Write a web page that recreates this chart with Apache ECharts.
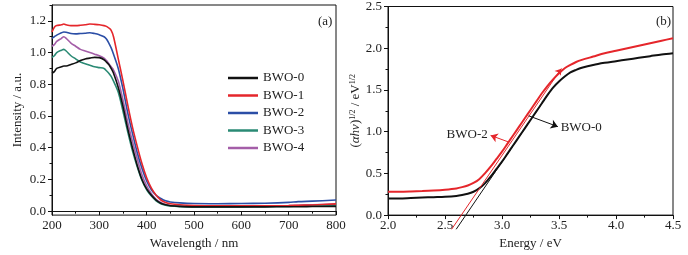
<!DOCTYPE html>
<html>
<head>
<meta charset="utf-8">
<script src="https://cdn.jsdelivr.net/npm/echarts@6/dist/echarts.min.js"></script>
<style>
  html, body { margin: 0; padding: 0; background: #fff; }
  #chart { width: 688px; height: 255px; }
</style>
</head>
<body>
<div id="chart"></div>
<script>
// ---- panel (a): intensity vs wavelength
var wavelength = [200, 205, 210, 220, 225, 230, 240, 250, 260, 270, 280, 290, 300, 310, 315, 320, 325, 330, 340, 350,
  360, 370, 380, 390, 400, 410, 420, 430, 440, 450, 470, 500, 550, 600, 650, 700, 720, 750, 800];
var bwo0 = [0.87, 0.88, 0.90, 0.91, 0.915, 0.915, 0.925, 0.935, 0.95, 0.96, 0.965, 0.97, 0.968, 0.955, 0.94, 0.925, 0.90, 0.87, 0.78, 0.66,
  0.52, 0.40, 0.29, 0.20, 0.14, 0.10, 0.07, 0.05, 0.04, 0.034, 0.03, 0.027, 0.027, 0.027, 0.027, 0.028, 0.028, 0.029, 0.030];
var bwo1 = [1.13, 1.16, 1.17, 1.175, 1.18, 1.175, 1.17, 1.17, 1.172, 1.175, 1.18, 1.178, 1.175, 1.17, 1.165, 1.155, 1.14, 1.10, 0.96, 0.82,
  0.67, 0.53, 0.41, 0.30, 0.21, 0.145, 0.10, 0.07, 0.055, 0.047, 0.04, 0.035, 0.033, 0.033, 0.034, 0.035, 0.037, 0.039, 0.046];
var bwo2 = [1.09, 1.10, 1.11, 1.125, 1.13, 1.128, 1.12, 1.118, 1.12, 1.122, 1.125, 1.12, 1.112, 1.10, 1.085, 1.06, 1.03, 0.99, 0.90, 0.77,
  0.62, 0.49, 0.37, 0.27, 0.19, 0.135, 0.10, 0.08, 0.065, 0.058, 0.052, 0.048, 0.047, 0.048, 0.05, 0.055, 0.06, 0.063, 0.07];
var bwo3 = [0.97, 0.98, 1.00, 1.015, 1.02, 1.01, 0.98, 0.96, 0.94, 0.93, 0.92, 0.91, 0.905, 0.90, 0.885, 0.87, 0.85, 0.82, 0.75, 0.63,
  0.50, 0.38, 0.28, 0.195, 0.135, 0.095, 0.065, 0.047, 0.037, 0.032, 0.028, 0.026, 0.026, 0.027, 0.028, 0.030, 0.032, 0.034, 0.038];
var bwo4 = [1.04, 1.05, 1.07, 1.09, 1.10, 1.09, 1.06, 1.04, 1.02, 1.01, 1.00, 0.99, 0.98, 0.965, 0.95, 0.93, 0.91, 0.89, 0.82, 0.70,
  0.56, 0.44, 0.33, 0.23, 0.16, 0.11, 0.075, 0.055, 0.042, 0.036, 0.031, 0.029, 0.029, 0.03, 0.032, 0.035, 0.037, 0.04, 0.045];
var namesA = ["BWO-0", "BWO-1", "BWO-2", "BWO-3", "BWO-4"];
var colorsA = ["#111111", "#e5262b", "#2b4ea6", "#2a8a74", "#a45ea8"];
var yTicksA = [0, 0.2, 0.4, 0.6, 0.8, 1.0, 1.2];
var yMinorA = [0.1, 0.3, 0.5, 0.7, 0.9, 1.1, 1.3];

// ---- panel (b): (ahv)^1/2 vs energy
var energy = [2.0, 2.1, 2.2, 2.3, 2.4, 2.5, 2.6, 2.65, 2.7, 2.75, 2.8, 2.85, 2.9, 2.95, 3.0, 3.05, 3.1, 3.15, 3.2, 3.25,
  3.3, 3.35, 3.4, 3.45, 3.5, 3.55, 3.6, 3.65, 3.7, 3.8, 3.9, 4.0, 4.1, 4.2, 4.3, 4.4, 4.5];
var tauc0 = [0.2, 0.2, 0.205, 0.21, 0.215, 0.22, 0.23, 0.24, 0.255, 0.28, 0.32, 0.38, 0.46, 0.55, 0.64, 0.74, 0.84, 0.94, 1.04, 1.14,
  1.24, 1.34, 1.44, 1.53, 1.60, 1.66, 1.71, 1.74, 1.765, 1.80, 1.825, 1.845, 1.865, 1.885, 1.905, 1.925, 1.94];
var tauc2 = [0.28, 0.28, 0.283, 0.288, 0.295, 0.305, 0.32, 0.335, 0.355, 0.385, 0.43, 0.50, 0.58, 0.67, 0.76, 0.86, 0.96, 1.06, 1.16, 1.26,
  1.36, 1.46, 1.55, 1.63, 1.70, 1.76, 1.80, 1.835, 1.86, 1.90, 1.94, 1.97, 2.0, 2.03, 2.06, 2.09, 2.12];
var fit0E = [2.598, 3.42];
var fit0V = [-0.17, 1.48];
var fit2E = [2.558, 3.52];
var fit2V = [-0.17, 1.755];

function pairs(xs, ys) {
  return xs.map(function (x, i) { return [x, ys[i]]; });
}

var serif = "Liberation Serif, Times New Roman, serif";
var txt = { color: "#222", fontFamily: serif, fontSize: 13 };

var chart = echarts.init(document.getElementById("chart"));

var seriesA = [bwo0, bwo1, bwo2, bwo3, bwo4].map(function (vals, i) {
  return {
    name: namesA[i],
    type: "line",
    xAxisIndex: 0,
    yAxisIndex: 0,
    data: pairs(wavelength, vals),
    symbol: "none",
    smooth: 0.3,
    lineStyle: { color: colorsA[i], width: 1.6 },
    itemStyle: { color: colorsA[i] },
    z: 5 - i
  };
});

var option = {
  animation: false,
  title: [
    { text: "(a)", left: 313, top: 10, textStyle: { color: "#222", fontFamily: serif, fontSize: 13, fontWeight: "normal" } },
    { text: "(b)", left: 651, top: 10, textStyle: { color: "#222", fontFamily: serif, fontSize: 13, fontWeight: "normal" } }
  ],
  legend: {
    data: namesA,
    orient: "vertical",
    left: 228,
    top: 71.5,
    padding: 0,
    icon: "rect",
    itemWidth: 30,
    itemHeight: 2.5,
    itemGap: 4.5,
    textStyle: txt
  },
  grid: [
    { left: 52, right: 352, top: 5, bottom: 38, show: true, borderColor: "#111", borderWidth: 1 },
    { left: 388, right: 15, top: 4, bottom: 39, show: true, borderColor: "#111", borderWidth: 1 }
  ],
  xAxis: [
    {
      gridIndex: 0, type: "value", min: 200, max: 800, interval: 100,
      name: "Wavelength / nm", nameLocation: "middle", nameGap: 17, nameTextStyle: txt,
      axisLine: { lineStyle: { color: "#111" } },
      axisTick: { inside: false, length: 4, lineStyle: { color: "#111" } },
      minorTick: { show: true, splitNumber: 2, length: 2.5, lineStyle: { color: "#111" } },
      axisLabel: Object.assign({ margin: 4 }, txt),
      splitLine: { show: false }
    },
    {
      gridIndex: 1, type: "value", min: 2, max: 4.5, interval: 0.5,
      name: "Energy / eV", nameLocation: "middle", nameGap: 17, nameTextStyle: txt,
      axisLine: { lineStyle: { color: "#111" } },
      axisTick: { inside: false, length: 4, lineStyle: { color: "#111" } },
      minorTick: { show: true, splitNumber: 2, length: 2.5, lineStyle: { color: "#111" } },
      axisLabel: Object.assign({ margin: 4, formatter: function (v) { return v.toFixed(1); } }, txt),
      splitLine: { show: false }
    }
  ],
  yAxis: [
    {
      gridIndex: 0, type: "value", min: -0.025, max: 1.3, position: "left",
      name: "Intensity / a.u.", nameLocation: "middle", nameGap: 28, nameTextStyle: txt,
      axisLine: { show: true, lineStyle: { color: "#111" } },
      axisTick: { show: true, inside: false, length: 4, customValues: yTicksA, lineStyle: { color: "#111" } },
      axisLabel: Object.assign({ margin: 6, customValues: yTicksA, formatter: function (v) { return v.toFixed(1); } }, txt),
      splitLine: { show: false }
    },
    {
      // minor ticks of panel (a)
      gridIndex: 0, type: "value", min: -0.025, max: 1.3, position: "left",
      axisLine: { show: false },
      axisTick: { show: true, inside: false, length: 2.5, customValues: yMinorA, lineStyle: { color: "#111" } },
      axisLabel: { show: false },
      splitLine: { show: false }
    },
    {
      gridIndex: 1, type: "value", min: 0, max: 2.5, interval: 0.5, position: "left",
      name: "{n|(}{i|αhν}{n|)}{s|1/2}{n| / eV}{s|1/2}",
      nameLocation: "middle", nameGap: 25,
      nameTextStyle: {
        color: "#222", fontFamily: serif, fontSize: 13,
        rich: {
          n: { color: "#222", fontFamily: serif, fontSize: 13 },
          i: { color: "#222", fontFamily: serif, fontSize: 13, fontStyle: "italic" },
          s: { color: "#222", fontFamily: serif, fontSize: 8, verticalAlign: "top", lineHeight: 13 }
        }
      },
      axisLine: { show: true, lineStyle: { color: "#111" } },
      axisTick: { inside: false, length: 4, lineStyle: { color: "#111" } },
      minorTick: { show: true, splitNumber: 2, length: 2.5, lineStyle: { color: "#111" } },
      axisLabel: Object.assign({ margin: 6, formatter: function (v) { return v.toFixed(1); } }, txt),
      splitLine: { show: false }
    }
  ],
  series: seriesA.concat([
    {
      name: "b-BWO-0", type: "line", xAxisIndex: 1, yAxisIndex: 2,
      data: pairs(energy, tauc0), symbol: "none", smooth: 0.3,
      lineStyle: { color: "#111", width: 2 },
      markLine: {
        silent: true, symbol: ["none", "arrow"], symbolSize: 7,
        lineStyle: { color: "#111", width: 1, type: "solid" },
        label: { show: true, position: "end", formatter: "BWO-0", color: "#222", fontFamily: serif, fontSize: 13, distance: 3 },
        data: [[{ coord: [3.234, 1.19] }, { coord: [3.49, 1.06] }]]
      }
    },
    {
      name: "b-BWO-2", type: "line", xAxisIndex: 1, yAxisIndex: 2,
      data: pairs(energy, tauc2), symbol: "none", smooth: 0.3,
      lineStyle: { color: "#e5262b", width: 2 },
      markLine: {
        silent: true, symbol: ["none", "arrow"], symbolSize: 7,
        lineStyle: { color: "#e5262b", width: 1, type: "solid" },
        label: { show: true, position: "end", formatter: "BWO-2", color: "#222", fontFamily: serif, fontSize: 13, distance: 3 },
        data: [[{ coord: [3.058, 0.876] }, { coord: [2.9, 0.955] }]]
      }
    },
    {
      name: "fit0", type: "line", xAxisIndex: 1, yAxisIndex: 2, clip: false,
      data: pairs(fit0E, fit0V), symbol: "none",
      lineStyle: { color: "#111", width: 1 }
    },
    {
      name: "fit2", type: "line", xAxisIndex: 1, yAxisIndex: 2, clip: false,
      data: pairs(fit2E, fit2V), symbol: "none",
      lineStyle: { color: "#e5262b", width: 1 },
      markLine: {
        silent: true, symbol: ["none", "arrow"], symbolSize: 6, label: { show: false },
        lineStyle: { color: "#e5262b", width: 1, type: "solid" },
        data: [[{ coord: [3.49, 1.70] }, { coord: [3.52, 1.755] }]]
      }
    }
  ])
};

chart.setOption(option);
</script>
</body>
</html>
